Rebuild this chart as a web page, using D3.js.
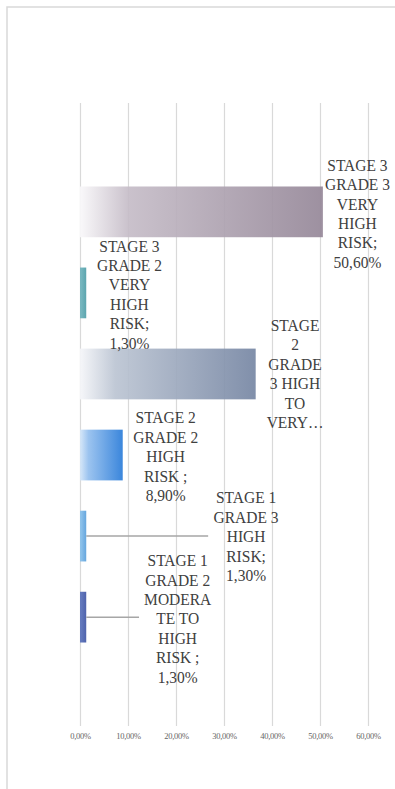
<!DOCTYPE html>
<html>
<head>
<meta charset="utf-8">
<script src="https://cdn.jsdelivr.net/npm/d3@7/dist/d3.min.js"></script>
<style>
  html, body { margin: 0; padding: 0; background: #fff; }
  svg { display: block; }
</style>
</head>
<body>
<svg id="chart" width="395" height="789"></svg>
<script>
// Risk categories, top to bottom
const categories = [
  "STAGE 3 GRADE 3 VERY HIGH RISK",
  "STAGE 3 GRADE 2 VERY HIGH RISK",
  "STAGE 2 GRADE 3 HIGH TO VERY HIGH RISK",
  "STAGE 2 GRADE 2 HIGH RISK",
  "STAGE 1 GRADE 3 HIGH RISK",
  "STAGE 1 GRADE 2 MODERATE TO HIGH RISK"
];
// Share of patients (%)
const values = [50.6, 1.3, 36.6, 8.9, 1.3, 1.3];
// Wrapped data-label text (value line appended where shown)
const labelLines = [
  ["STAGE 3", "GRADE 3", "VERY", "HIGH", "RISK;"],
  ["STAGE 3", "GRADE 2", "VERY", "HIGH", "RISK;"],
  ["STAGE", "2", "GRADE", "3 HIGH", "TO", "VERY…"],
  ["STAGE 2", "GRADE 2", "HIGH", "RISK ;"],
  ["STAGE 1", "GRADE 3", "HIGH", "RISK;"],
  ["STAGE 1", "GRADE 2", "MODERA", "TE TO", "HIGH", "RISK ;"]
];
const labelShowsValue = [true, true, false, true, true, true];
// Axis ticks (%)
const tickValues = [0, 10, 20, 30, 40, 50, 60];

// ---- styling / layout ----
const serifStack = "'Liberation Serif', Tinos, 'Times New Roman', 'DejaVu Serif', serif";
// gradient stops per bar: [offset, colour]
const barStops = [
  [[0, "#f9f8fa"], [0.2, "#c6bdc8"], [1, "#968899"]],
  [[0, "#72b5be"], [1, "#4f9ea8"]],
  [[0, "#f5f6f9"], [0.2, "#bcc5d3"], [1, "#7787a4"]],
  [[0, "#d4e6f8"], [0.2, "#94bfee"], [1, "#2c7dd9"]],
  [[0, "#8cc3ec"], [1, "#5a9fdb"]],
  [[0, "#5c74bd"], [1, "#4157a5"]]
];
// label anchor: x in axis units (%), dy = first baseline offset from band centre (px)
const labelAnchor = [
  { x: 57.8, dy: -41 },
  { x: 10.3, dy: -41.3 },
  { x: 44.8, dy: -43 },
  { x: 17.85, dy: -31.7 },
  { x: 34.6, dy: -32.7 },
  { x: 20.35, dy: -51 }
];
// leader line end (axis units) or null
const leaderEnd = [null, null, null, null, 26.7, 12.3];
const lineH = 19.4;

const svg = d3.select("#chart");

// chart area border
svg.append("rect")
  .attr("x", 7).attr("y", 7)
  .attr("width", 500).attr("height", 900)
  .attr("fill", "none")
  .attr("stroke", "#d9d9d9")
  .attr("stroke-width", 1.5);

const plotTop = 103, plotBottom = 726;
const x = d3.scaleLinear().domain([0, 60]).range([80, 368]);
const y = d3.scaleBand().domain(categories).range([plotTop, plotBottom])
  .paddingInner(0.374).paddingOuter(1.03);

const locale = d3.formatLocale({ decimal: ",", thousands: ".", grouping: [3], currency: ["", ""] });
const fmtPct = v => locale.format(".2f")(v) + "%";

// gridlines + tick labels
const axis = d3.axisBottom(x)
  .tickValues(tickValues)
  .tickSize(-(plotBottom - plotTop))
  .tickFormat(fmtPct);

const gAxis = svg.append("g")
  .attr("transform", `translate(0,${plotBottom})`)
  .call(axis);
gAxis.attr("font-family", null).attr("font-size", null);
gAxis.select(".domain").remove();
gAxis.selectAll(".tick line")
  .attr("stroke", "#d9d9d9")
  .attr("stroke-width", 1.2);
gAxis.selectAll(".tick text")
  .attr("y", 13)
  .attr("dy", 0)
  .attr("fill", "#666666")
  .style("font-family", serifStack)
  .style("font-size", "8.5px")
  .style("letter-spacing", "-0.3px");

// gradients
const defs = svg.append("defs");
barStops.forEach((stops, i) => {
  const g = defs.append("linearGradient").attr("id", "grad" + i)
    .attr("x1", "0%").attr("x2", "100%").attr("y1", "0%").attr("y2", "0%");
  stops.forEach(s => g.append("stop").attr("offset", s[0]).attr("stop-color", s[1]));
});

// bars (slightly translucent so gridlines show through)
svg.append("g").selectAll("rect")
  .data(values)
  .join("rect")
  .attr("x", x(0))
  .attr("y", (d, i) => y(categories[i]))
  .attr("width", d => x(d) - x(0))
  .attr("height", y.bandwidth())
  .attr("fill", (d, i) => `url(#grad${i})`)
  .attr("fill-opacity", 0.93);

// leader lines
svg.append("g").selectAll("line")
  .data(values.map((v, i) => ({ v, i })).filter(d => leaderEnd[d.i] !== null))
  .join("line")
  .attr("x1", d => x(d.v))
  .attr("x2", d => x(leaderEnd[d.i]))
  .attr("y1", d => y(categories[d.i]) + y.bandwidth() / 2)
  .attr("y2", d => y(categories[d.i]) + y.bandwidth() / 2)
  .attr("stroke", "#a6a6a6")
  .attr("stroke-width", 1.5);

// data labels (slightly condensed serif)
const labels = svg.append("g");

values.forEach((v, i) => {
  const lines = labelLines[i].slice();
  if (labelShowsValue[i]) lines.push(fmtPct(v));
  const cx = x(labelAnchor[i].x);
  const cy = y(categories[i]) + y.bandwidth() / 2 + labelAnchor[i].dy;
  const t = labels.append("text")
    .attr("transform", `translate(${cx},${cy}) scale(0.94,1)`)
    .attr("text-anchor", "middle")
    .attr("fill", "#404040")
    .style("font-family", serifStack)
    .style("font-size", "16.5px");
  lines.forEach((ln, k) => {
    t.append("tspan").attr("x", 0).attr("y", k * lineH).text(ln);
  });
});
</script>
</body>
</html>
